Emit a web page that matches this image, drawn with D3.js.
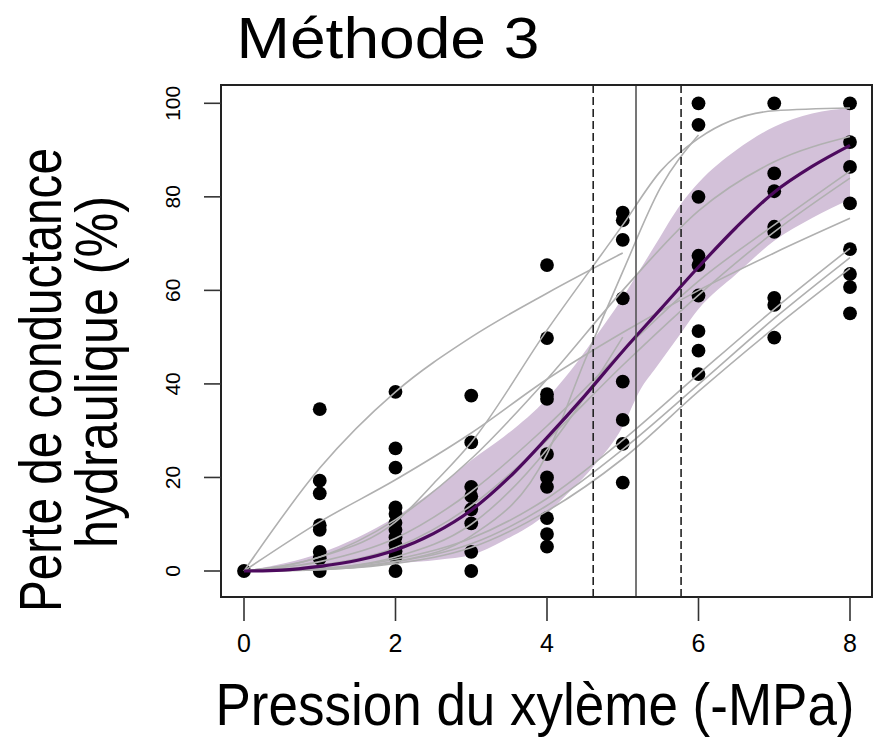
<!DOCTYPE html>
<html>
<head>
<meta charset="utf-8">
<script src="https://cdn.jsdelivr.net/npm/d3@7"></script>
<style>
  html, body { margin: 0; padding: 0; background: #fff; }
  svg { display: block; }
  text { font-family: "Liberation Sans", Arial, Helvetica, sans-serif; fill: #000; }
</style>
</head>
<body>
<svg id="chart" width="874" height="741"></svg>
<script>
// ---------------- data ----------------
const chartTitle = "Méthode 3";
const xAxisTitle = "Pression du xylème (-MPa)";
const yAxisTitleLines = ["Perte de conductance", "hydraulique (%)"];
const xTicks = [0, 2, 4, 6, 8];
const yTicks = [0, 20, 40, 60, 80, 100];

// observed points, per pressure step
const obsPressure = [0, 1, 2, 3, 4, 5, 6, 7, 8];
const obsLoss = [
  [0],
  [34.6, 19.3, 16.6, 9.8, 8.8, 4.1, 2.7, 0],
  [38.3, 26.2, 22.1, 13.6, 12.2, 10.3, 8.8, 7.2, 5.6, 4.2, 3.0, 0],
  [37.5, 27.5, 18.0, 16.0, 13.2, 10.2, 4.1, 0],
  [65.4, 49.8, 37.8, 36.8, 25.0, 20.0, 18.0, 11.3, 7.9, 5.2],
  [76.6, 75.0, 70.8, 58.3, 40.5, 32.3, 27.2, 18.9],
  [100, 95.4, 80.0, 67.4, 65.4, 58.9, 51.3, 47.1, 42.1],
  [100, 85.0, 81.2, 73.6, 72.5, 58.4, 56.9, 49.9],
  [100, 91.7, 86.4, 78.6, 68.8, 63.5, 60.7, 55.1]
];

// individual fitted curves (grey), [pressure, loss] pairs
const curveA = [[0,0],[1,22],[2,38.3],[3,50],[4,59.4],[5,68]];
const curveB = [[0,0],[1,10.5],[2,19.5],[3,29.5],[4,41],[5,51],[6,60],[7,68],[8,75.4]];
const curveC = [[0,0],[1,3],[2,10.5],[2.55,19.5],[3,27.5],[4,51.5],[5,74],[5.5,85.5],[6,92.5],[7,98.4],[8,99]];
const curveD = [[0,0],[1,0.3],[2,2],[3,7.5],[4,25],[4.5,45],[5,64],[5.5,82],[6,93.2]];
const curveE = [[0,0],[1,0.5],[2,3],[3,10],[4,26],[5,50]];
const curveF = [[0,0],[1,3],[2,11],[3,24],[4,41],[5,60],[6,77],[7,87.5],[8,92.9]];
const curveG = [[0,0],[1,2],[2,7],[3,17],[4,31],[5,47],[6,62],[7,74],[8,85.5]];
const curveH = [[0,0],[1,1.2],[2,5],[3,14],[4,28],[5,44],[6,59],[7,72.5],[8,84]];
const curveI = [[0,0],[1,0.5],[2,2.5],[3,7],[4,15.5],[5,28],[6,42.1],[7,56],[8,69]];
const curveJ = [[0,0],[1,0.4],[2,2],[3,5.8],[4,14],[5,26],[6,39.9],[7,54],[8,67]];
const curveK = [[0,0],[1,0.3],[2,1.6],[3,5],[4,12.8],[5,24],[6,38.4],[7,52],[8,64.7]];
const greyCurves = [curveA, curveB, curveC, curveD, curveE, curveF, curveG, curveH, curveI, curveJ, curveK];

// mean curve
const meanPressure = [0,0.5,1,1.5,2,2.5,3,3.5,4,4.5,5,5.5,6,6.5,7,7.5,8];
const meanLoss     = [0,0.2,1,2.3,4.5,8,13,20,28.5,37.5,47,56,65,73.5,81,86.5,91];

// confidence band
const bandPressure = [0,1,2,2.57,3,3.43,4,4.3,4.61,5,5.23,5.44,5.77,6,6.5,7,7.5,8];
const bandUpper    = [0,3.8,11.6,18,23.7,28.7,36.9,42.6,49.4,58.5,64.5,70,78.5,83,90,95,97.8,99];
const bandLower    = [0,0.2,1.6,2.4,3.4,6.5,12.3,17,22.3,30.9,38.7,43.5,50.9,56,63.5,70.6,75.5,79.5];

// P50 and its interval
const p50 = 5.175;
const p50Interval = [4.61, 5.77];

// ---------------- drawing ----------------
const svg = d3.select("#chart");
const box = {left: 221, right: 872, top: 85, bottom: 597};
const x = d3.scaleLinear().domain([0, 8]).range([244, 850]);
const y = d3.scaleLinear().domain([0, 100]).range([571, 103.3]);

// band
const bandData = bandPressure.map((p, i) => ({p, lo: bandLower[i], hi: bandUpper[i]}));
svg.append("path")
  .datum(bandData)
  .attr("fill", "#d3c1d9")
  .attr("d", d3.area().x(d => x(d.p)).y0(d => y(d.lo)).y1(d => y(d.hi)).curve(d3.curveMonotoneX));

// points
const pts = [];
obsPressure.forEach((p, i) => obsLoss[i].forEach(v => pts.push({p, v})));
svg.append("g").selectAll("circle").data(pts).join("circle")
  .attr("cx", d => x(d.p)).attr("cy", d => y(d.v)).attr("r", 6.9)
  .attr("fill", "#000");

// grey curves
const line = d3.line().x(d => x(d[0])).y(d => y(d[1])).curve(d3.curveMonotoneX);
svg.append("g").selectAll("path").data(greyCurves).join("path")
  .attr("d", line)
  .attr("fill", "none")
  .attr("stroke", "#b0b0b0")
  .attr("stroke-width", 1.6);

// mean curve
svg.append("path")
  .datum(meanPressure.map((p, i) => [p, meanLoss[i]]))
  .attr("d", line)
  .attr("fill", "none")
  .attr("stroke", "#4d0a5e")
  .attr("stroke-width", 3.2);

// vertical lines
svg.append("line")
  .attr("x1", x(p50)).attr("x2", x(p50)).attr("y1", box.top).attr("y2", box.bottom)
  .attr("stroke", "#555").attr("stroke-width", 1.6);
svg.append("g").selectAll("line").data(p50Interval).join("line")
  .attr("x1", d => x(d)).attr("x2", d => x(d)).attr("y1", box.top).attr("y2", box.bottom)
  .attr("stroke", "#222").attr("stroke-width", 1.6).attr("stroke-dasharray", "8,4");

// box
svg.append("rect")
  .attr("x", box.left).attr("y", box.top)
  .attr("width", box.right - box.left).attr("height", box.bottom - box.top)
  .attr("fill", "none").attr("stroke", "#222").attr("stroke-width", 2);

// y axis ticks
const yAxis = svg.append("g");
yAxis.selectAll("line").data(yTicks).join("line")
  .attr("x1", box.left).attr("x2", box.left - 17)
  .attr("y1", d => y(d)).attr("y2", d => y(d))
  .attr("stroke", "#333").attr("stroke-width", 1.6);
yAxis.selectAll("text").data(yTicks).join("text")
  .attr("transform", d => `translate(180,${y(d)}) rotate(-90)`)
  .attr("text-anchor", "middle")
  .attr("font-size", 21)
  .text(d => d);

// x axis ticks
const xAxis = svg.append("g");
xAxis.selectAll("line").data(xTicks).join("line")
  .attr("x1", d => x(d)).attr("x2", d => x(d))
  .attr("y1", box.bottom).attr("y2", box.bottom + 24)
  .attr("stroke", "#333").attr("stroke-width", 1.6);
xAxis.selectAll("text").data(xTicks).join("text")
  .attr("x", d => x(d)).attr("y", 652)
  .attr("text-anchor", "middle")
  .attr("font-size", 25)
  .text(d => d);

// titles
svg.append("text")
  .attr("x", 388).attr("y", 58)
  .attr("text-anchor", "middle")
  .attr("font-size", 57)
  .attr("textLength", 303).attr("lengthAdjust", "spacingAndGlyphs")
  .text(chartTitle);

svg.append("text")
  .attr("transform", "translate(535,725) scale(1,1.1)")
  .attr("text-anchor", "middle")
  .attr("font-size", 53)
  .text(xAxisTitle);

svg.append("text")
  .attr("transform", "translate(61,380) rotate(-90)")
  .attr("text-anchor", "middle")
  .attr("font-size", 60)
  .attr("textLength", 464).attr("lengthAdjust", "spacingAndGlyphs")
  .text(yAxisTitleLines[0]);

svg.append("text")
  .attr("transform", "translate(117,372) rotate(-90)")
  .attr("text-anchor", "middle")
  .attr("font-size", 60)
  .attr("textLength", 352).attr("lengthAdjust", "spacingAndGlyphs")
  .text(yAxisTitleLines[1]);
</script>
</body>
</html>
